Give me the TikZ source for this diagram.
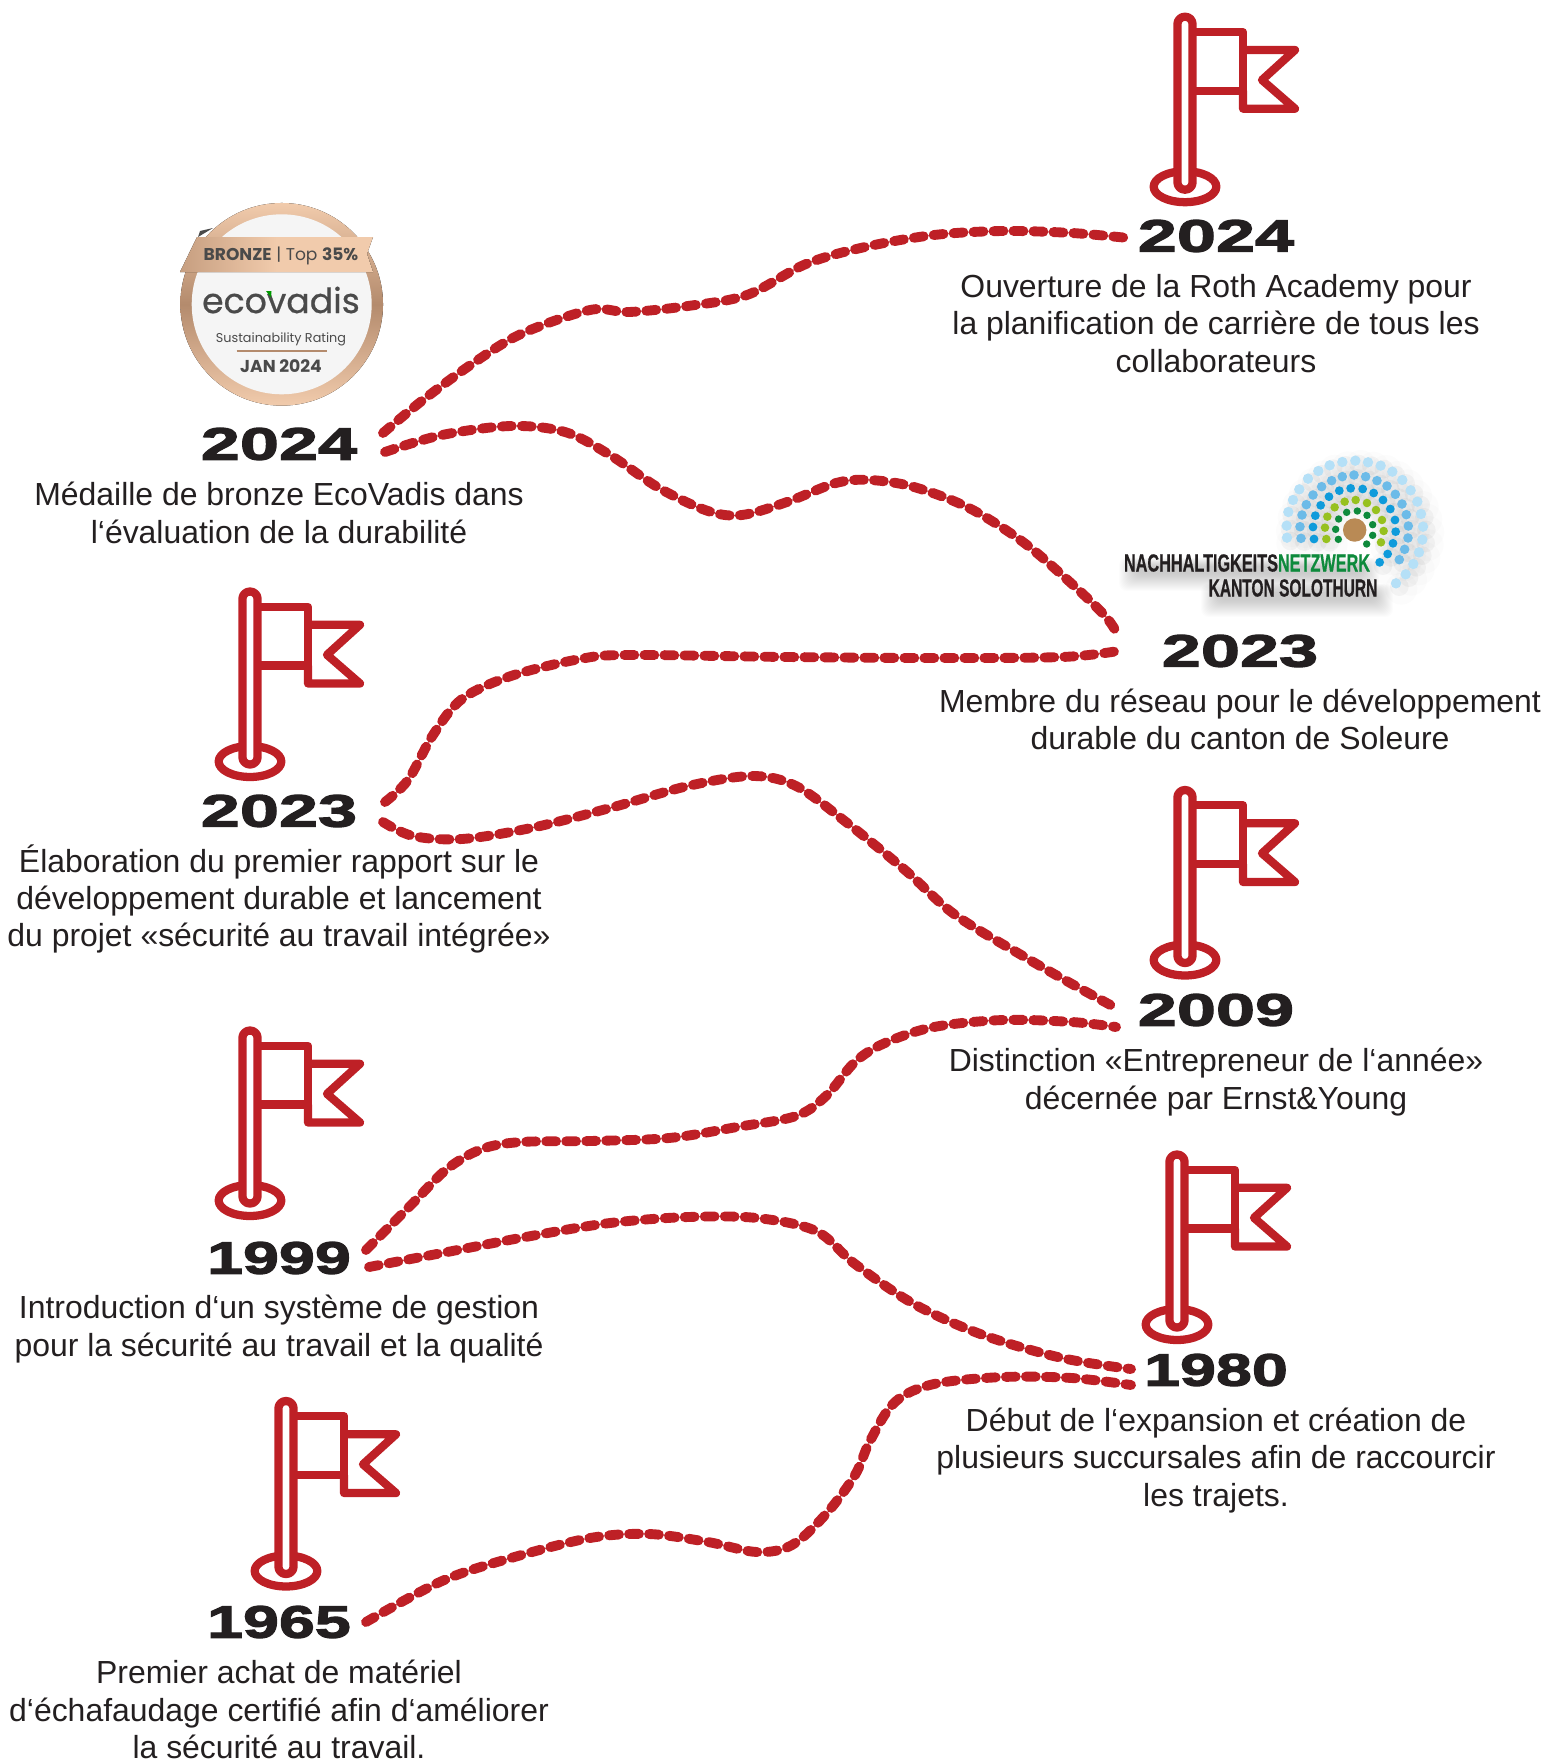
\documentclass[tikz,border=0pt]{standalone}
\usepackage{fontspec}
\setmainfont{Liberation Sans}
\newfontfamily\yearfont[FakeStretch=1.55,FakeBold=2.8]{Liberation Sans}
\newfontfamily\condfont[FakeStretch=.655,FakeBold=.5]{Liberation Sans}
\newfontfamily\badgefont{Poppins}
\newfontfamily\badgeheavy[FakeBold=.6]{Poppins}
\definecolor{rothred}{HTML}{BE2026}
\definecolor{inkblack}{HTML}{231F20}
\definecolor{bronzelight}{HTML}{F1CBAC}
\definecolor{bronzedark}{HTML}{B48B6D}
\definecolor{badgegrey}{HTML}{4A4A4A}
\definecolor{dotA}{HTML}{0E8A3C}
\definecolor{dotB}{HTML}{97C11F}
\definecolor{dotC}{HTML}{0F9BDB}
\definecolor{dotD}{HTML}{6CBBE8}
\definecolor{dotE}{HTML}{B5E0F7}
\definecolor{dotcore}{HTML}{B98A55}
\tikzset{
  yearlabel/.style={font=\yearfont\bfseries\fontsize{34pt}{34pt}\selectfont,text=inkblack,inner sep=0pt,anchor=center},
  yearnarrow/.style={yearlabel,xscale=.92,transform shape},
  bodylabel/.style={font=\fontsize{23.95pt}{28pt}\selectfont,text=inkblack,align=center,inner sep=0pt,anchor=center},
  trail/.style={draw=rothred,line width=7.4pt,line cap=round,line join=round,dash pattern=on 7.4pt off 7.6pt},
  flagline/.style={draw=rothred,line width=6.2pt,line join=round},
  softshade/.style={fill=black,opacity=.01,rounded corners=6pt},
  pics/flagmark/.style={code={
    \draw[flagline] (0,174) ellipse [x radius=23.5pt,y radius=11.6pt];
    \draw[flagline] (7.6,19.3) -- (58,19.3) -- (58,78) -- (7.6,78);
    \draw[flagline] (58,37.3) -- (110,37.3) -- (77,67.3) -- (110,96) -- (58,96) -- (58,78);
    \draw[flagline,fill=white,rounded corners=5.6pt] (-7.6,4) rectangle (7.6,177);
  }},
  logotext/.style={font=\condfont\bfseries\fontsize{18.6pt}{18.6pt}\selectfont,inner sep=0pt,anchor=center},
}
\begin{document}
\begin{tikzpicture}[x=.75pt,y=-.75pt]
\useasboundingbox (0,0) rectangle (1542,1760);

% flags
\pic at (1185,12.7) {flagmark};
\pic at (250,587.5) {flagmark};
\pic at (1185,786) {flagmark};
\pic at (250,1026.5) {flagmark};
\pic at (1177,1150.5) {flagmark};
\pic at (286,1397) {flagmark};

% EcoVadis medal
\fill[top color=bronzelight,bottom color=bronzelight,middle color=bronzedark] (281.7,304.3) circle [radius=76pt];
\fill[fill=white!96!black] (281.7,304.3) circle [radius=67.5pt];
\fill[badgegrey] (198,237) -- (213,228) -- (200,231) -- cycle;
\fill[left color=bronzedark!70!bronzelight,right color=bronzelight,middle color=bronzelight] (197,237) -- (180,272) -- (373,272) -- (367,254) -- (373,237) -- cycle;
\node[font=\badgefont\fontsize{12.8pt}{12.8pt}\selectfont,text=badgegrey,inner sep=0pt] (medalrank) at (281,256) {\textbf{BRONZE} | Top \textbf{35\%}};
\node[font=\badgeheavy\fontsize{26pt}{26pt}\selectfont,text=badgegrey,inner sep=0pt] (medalname) at (281,300) {ecovadis};
\fill[green!60!black] (266,291) -- (271.5,291) -- (271,297.5) -- cycle;
\node[font=\badgefont\fontsize{9.6pt}{9.6pt}\selectfont,text=badgegrey,inner sep=0pt] (medalrating) at (281,339) {Sustainability Rating};
\draw[bronzedark,line width=1.5pt] (236.7,350.7) -- (326.7,350.7);
\node[font=\badgefont\bfseries\fontsize{12.9pt}{12.9pt}\selectfont,text=badgegrey,inner sep=0pt] (medaldate) at (281,365.7) {JAN 2024};

% Nachhaltigkeitsnetzwerk logo
\foreach \gg in {0,1,2,3,4,5,6,7,8,9,10,11,12,13,14,15,16,17}{
  \fill[softshade] (1136-\gg,566-\gg/2) rectangle (1362+\gg,574+\gg);
  \fill[softshade] (1218-\gg,592-\gg/2) rectangle (1376+\gg,600+\gg);
}
\begin{scope}[shift={(1080,430)},x=.25pt,y=-.25pt]
  \foreach \xx/\yy in {621/323,620/287,625/246,639/210,658/178,684/146,715/123,749/106,787/96,826/92,864/97,902/107,937/125,967/150,992/181,1012/215,1023/252,1029/290,1027/329,1017/367,1000/402,977/433,948/460,663/325,660/290,666/255,679/224,699/195,725/170,755/152,787/140,822/135,857/140,891/152,921/168,946/193,966/222,979/254,985/288,984/324,974/358,958/389,702/327,699/291,706/257,722/226,747/200,778/182,812/175,848/177,881/189,909/210,931/237,945/270,947/305,939/340,923/372,899/397,739/327,735/293,742/260,764/232,794/215,827/210,861/219,888/240,906/270,911/303,903/337}{
    \fill[black,opacity=.035] (\xx+10,\yy+10) circle [radius=7pt];
    \fill[black,opacity=.012] (\xx+16,\yy+16) circle [radius=12pt];
  }
  \foreach \xx/\yy in {621/323,620/287,625/246,639/210,658/178,684/146,715/123,749/106,787/96,826/92,864/97,902/107,937/125,967/150,992/181,1012/215,1023/252,1029/290,1027/329,1017/367,1000/402,977/433,948/460}
    \fill[dotE] (\xx,\yy) circle [radius=3.9pt];
  \foreach \xx/\yy in {663/325,660/290,666/255,679/224,699/195,725/170,755/152,787/140,822/135,857/140,891/152,921/168,946/193,966/222,979/254,985/288,984/324,974/358,958/389}
    \fill[dotD] (\xx,\yy) circle [radius=3.6pt];
  \foreach \xx/\yy in {702/327,699/291,706/257,722/226,747/200,778/182,812/175,848/177,881/189,909/210,931/237,945/270,947/305,939/340,923/372,899/397}
    \fill[dotC] (\xx,\yy) circle [radius=3.3pt];
  \foreach \xx/\yy in {739/327,735/293,742/260,764/232,794/215,827/210,861/219,888/240,906/270,911/303,903/337}
    \fill[dotB] (\xx,\yy) circle [radius=3.2pt];
  \foreach \xx/\yy in {775/328,767/298,776/267,800/247,832/243,861/256,878/284,878/316,860/342}
    \fill[dotA] (\xx,\yy) circle [radius=2.8pt];
  \fill[dotcore] (824,300) circle [radius=8.8pt];
\end{scope}
\node[logotext,text=inkblack] (logoline) at (1247,563) {NACHHALTIGKEITS\textcolor{dotA}{NETZWERK}};
\node[logotext,text=inkblack,xscale=.955,transform shape] (logocanton) at (1293,588) {KANTON SOLOTHURN};

% years
\node[yearlabel] (y2024b) at (1216,236) {2024};
\node[yearlabel] (y2024a) at (279,444) {2024};
\node[yearlabel] (y2023a) at (279,811) {2023};
\node[yearlabel] (y2023b) at (1240,651) {2023};
\node[yearlabel] (y2009) at (1216,1010) {2009};
\node[yearnarrow] (y1999) at (279,1258) {1999};
\node[yearnarrow] (y1980) at (1216,1370) {1980};
\node[yearnarrow] (y1965) at (279,1622) {1965};

% body texts
\node[bodylabel] (t2024b) at (1216,323.5) {Ouverture de la Roth Academy pour\\la planification de carrière de tous les\\collaborateurs};
\node[bodylabel] (t2024a) at (279,513) {Médaille de bronze EcoVadis dans\\l‘évaluation de la durabilité};
\node[bodylabel] (t2023a) at (279,899) {Élaboration du premier rapport sur le\\développement durable et lancement\\du projet «sécurité au travail intégrée»};
\node[bodylabel] (t2023b) at (1240,719.5) {Membre du réseau pour le développement\\durable du canton de Soleure};
\node[bodylabel] (t2009) at (1216,1082) {Distinction «Entrepreneur de l‘année»\\décernée par Ernst\&Young};
\node[bodylabel] (t1999) at (279,1329) {Introduction d‘un système de gestion\\pour la sécurité au travail et la qualité};
\node[bodylabel] (t1980) at (1216,1460.5) {Début de l‘expansion et création de\\plusieurs succursales afin de raccourcir\\les trajets.};
\node[bodylabel] (t1965) at (279,1709.5) {Premier achat de matériel\\d‘échafaudage certifié afin d‘améliorer\\la sécurité au travail.};

% trail end points
\coordinate (a1) at (383,433); \coordinate (a2) at (1128,238);
\coordinate (b1) at (385,452); \coordinate (b2) at (1119,637);
\coordinate (c1) at (385,802); \coordinate (c2) at (1118,651);
\coordinate (d1) at (383,822); \coordinate (d2) at (1116,1008);
\coordinate (e1) at (366,1250); \coordinate (e2) at (1116,1027);
\coordinate (f1) at (369,1267); \coordinate (f2) at (1131,1369);
\coordinate (g1) at (366,1622); \coordinate (g2) at (1131,1385);

\draw[trail] plot[smooth,tension=.55] coordinates {(a1) (423,400) (472,364) (521,334) (590,310) (629,312) (688,306) (747,295) (806,264) (865,247) (934,235) (1003,231) (1072,233) (a2)};
\draw[trail] plot[smooth,tension=.55] coordinates {(b1) (442,435) (511,426) (565,432) (610,455) (659,488) (708,511) (742,515) (787,502) (836,483) (870,480) (914,487) (969,508) (1023,542) (1072,584) (1106,617) (b2)};
\draw[trail] plot[smooth,tension=.55] coordinates {(c1) (408,780) (433,735) (462,699) (511,676) (580,659) (629,655) (787,657) (934,658) (1062,657) (c2)};
\draw[trail] plot[smooth,tension=.55] coordinates {(d1) (413,836) (462,839) (531,828) (610,808) (688,786) (752,776) (796,786) (846,822) (905,870) (954,914) (1023,956) (1072,984) (d2)};
\draw[trail] plot[smooth,tension=.55] coordinates {(e1) (388,1228) (413,1203) (447,1169) (482,1149) (521,1142) (590,1141) (669,1138) (737,1127) (796,1116) (826,1096) (855,1062) (885,1043) (934,1027) (1003,1020) (1072,1022) (e2)};
\draw[trail] plot[smooth,tension=.55] coordinates {(f1) (442,1253) (531,1236) (610,1223) (688,1217) (757,1218) (816,1231) (855,1264) (914,1304) (983,1335) (1062,1358) (f2)};
\draw[trail] plot[smooth,tension=.55] coordinates {(g1) (442,1581) (511,1558) (590,1538) (649,1534) (708,1542) (757,1552) (792,1545) (826,1514) (855,1475) (870,1441) (895,1402) (934,1384) (1003,1377) (1072,1378) (g2)};
\end{tikzpicture}
\end{document}
